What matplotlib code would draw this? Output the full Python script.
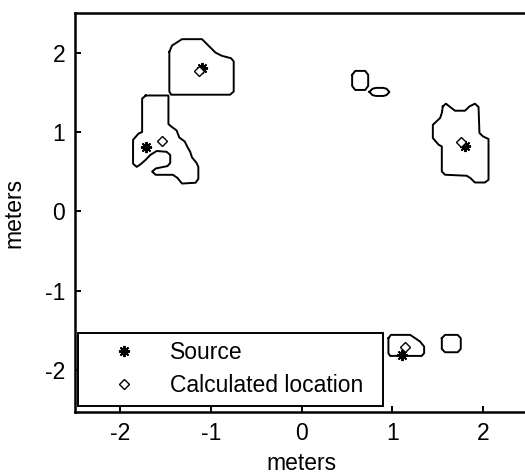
import matplotlib
matplotlib.use("Agg")
import matplotlib.pyplot as plt

plt.rcParams["font.family"] = ["Liberation Sans", "DejaVu Sans"]
plt.rcParams["axes.unicode_minus"] = False

# Source positions and calculated locations (meters)
source_x = [-1.10, -1.717, 1.80, 1.104]
source_y = [1.807, 0.81, 0.818, -1.81]
calc_x = [-1.137, -1.54, 1.757, 1.14]
calc_y = [1.764, 0.88, 0.868, -1.706]

# Outlines of the detection regions (meters)
region_a_x = [-1.46, -1.43, -1.32, -1.10, -0.95, -0.88, -0.78, -0.75, -0.75, -0.79, -1.44, -1.46, -1.46]
region_a_y = [2.01, 2.09, 2.17, 2.17, 2.00, 1.96, 1.93, 1.89, 1.51, 1.47, 1.47, 1.51, 2.01]

region_b_x = [-1.72, -1.47, -1.47, -1.44, -1.38, -1.35, -1.29, -1.26, -1.23, -1.21, -1.16, -1.14,
              -1.14, -1.17, -1.32, -1.37, -1.42, -1.61, -1.65, -1.61, -1.48, -1.45, -1.45, -1.49,
              -1.60, -1.67, -1.72, -1.78, -1.82, -1.86, -1.86, -1.80, -1.76, -1.76, -1.72]
region_b_y = [1.46, 1.46, 1.10, 1.07, 1.02, 0.93, 0.88, 0.81, 0.75, 0.68, 0.61, 0.56,
              0.41, 0.36, 0.35, 0.42, 0.46, 0.46, 0.50, 0.54, 0.57, 0.61, 0.71, 0.75,
              0.76, 0.71, 0.65, 0.59, 0.56, 0.60, 0.90, 0.98, 1.00, 1.42, 1.46]

region_c_x = [0.556, 0.59, 0.70, 0.733, 0.733, 0.70, 0.59, 0.556, 0.556]
region_c_y = [1.72, 1.77, 1.77, 1.72, 1.58, 1.53, 1.53, 1.58, 1.72]

region_d_x = [0.747, 0.78, 0.82, 0.90, 0.935, 0.967, 0.935, 0.90, 0.82, 0.78, 0.747]
region_d_y = [1.505, 1.545, 1.556, 1.556, 1.545, 1.505, 1.465, 1.454, 1.454, 1.465, 1.505]

region_e_x = [1.556, 1.59, 1.69, 1.80, 1.85, 1.91, 1.95, 1.96, 2.00, 2.06, 2.06, 2.02, 1.91,
              1.86, 1.82, 1.58, 1.545, 1.545, 1.51, 1.446, 1.446, 1.526, 1.545, 1.556]
region_e_y = [1.322, 1.357, 1.268, 1.268, 1.322, 1.357, 1.315, 0.987, 0.944, 0.911, 0.397, 0.363,
              0.363, 0.419, 0.448, 0.461, 0.502, 0.818, 0.839, 0.924, 1.09, 1.176, 1.239, 1.322]

region_f_x = [0.956, 0.983, 1.196, 1.251, 1.306, 1.350, 1.350, 1.324, 0.975, 0.956, 0.956]
region_f_y = [-1.600, -1.558, -1.558, -1.600, -1.643, -1.706, -1.789, -1.823, -1.823, -1.789, -1.600]

region_g_x = [1.545, 1.58, 1.72, 1.754, 1.754, 1.72, 1.58, 1.545, 1.545]
region_g_y = [-1.60, -1.558, -1.558, -1.60, -1.735, -1.777, -1.777, -1.735, -1.60]

regions = [
    (region_a_x, region_a_y), (region_b_x, region_b_y), (region_c_x, region_c_y),
    (region_d_x, region_d_y), (region_e_x, region_e_y), (region_f_x, region_f_y),
    (region_g_x, region_g_y),
]

x_ticks = [-2, -1, 0, 1, 2]
y_ticks = [-2, -1, 0, 1, 2]

FS = 16.5

fig = plt.figure(figsize=(5.25, 4.76), dpi=100)
ax = fig.add_axes([0.1429, 0.1345, 0.8636, 0.8382])

for rx, ry in regions:
    ax.plot(rx, ry, color="black", lw=1.4)

asterisk = (8, 2, 0)
ax.plot(source_x, source_y, ls="none", marker=asterisk, ms=8, mew=1.4,
        color="black", label="Source")
ax.plot(calc_x, calc_y, ls="none", marker="D", ms=5.3, mew=1.0,
        mfc="white", mec="black", label="Calculated location")

ax.set_xlim(-2.5, 2.5)
ax.set_ylim(-2.53, 2.5)
ax.set_xticks(x_ticks)
ax.set_yticks(y_ticks)
ax.tick_params(direction="in", length=4, width=1.4, labelsize=FS, pad=7,
               top=False, right=False)
for s in ax.spines.values():
    s.set_linewidth(1.8)

ax.set_xlabel("meters", fontsize=FS, labelpad=5)
ax.set_ylabel("meters", fontsize=FS, labelpad=14)

leg = ax.legend(loc="lower left", bbox_to_anchor=(0.0073, 0.016, 0.672, 0.18),
                mode="expand", borderaxespad=0, fontsize=FS, frameon=True,
                fancybox=False, edgecolor="black", framealpha=1,
                handlelength=3.2, handletextpad=0.4, borderpad=0.38,
                labelspacing=0.42, numpoints=1)
leg.get_frame().set_linewidth(1.4)

fig.savefig("out.png", dpi=100)
